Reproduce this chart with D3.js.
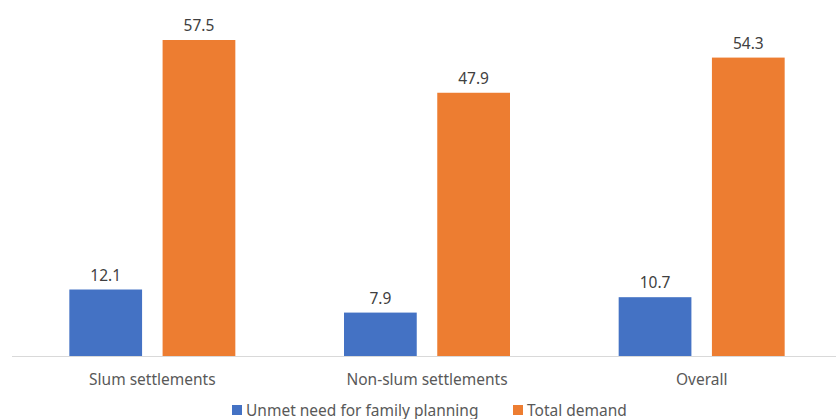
<!DOCTYPE html>
<html>
<head>
<meta charset="utf-8">
<script src="https://cdn.jsdelivr.net/npm/d3@7"></script>
<style>
  body { margin: 0; background: #fff; }
  text { font-family: "Noto Sans", sans-serif; }
</style>
</head>
<body>
<script>
var categories = ["Slum settlements", "Non-slum settlements", "Overall"];
var seriesNames = ["Unmet need for family planning", "Total demand"];
var unmetNeed = [12.1, 7.9, 10.7];
var totalDemand = [57.5, 47.9, 54.3];
var colours = ["#4472c4", "#ed7d31"];

const width = 836;
const height = 419;
const baseline = 356;

var data = categories.map((c, i) => ({
    cat: c,
    values: [
        {series: seriesNames[0], value: unmetNeed[i]},
        {series: seriesNames[1], value: totalDemand[i]}
    ]
}));

var svg = d3.select('body')
    .append('svg')
    .attr('width', width)
    .attr('height', height);

const x0 = d3.scaleBand()
    .domain(categories)
    .range([15, 839]);

const groupWidth = 166;
const x1 = d3.scaleBand()
    .domain(seriesNames)
    .range([0, groupWidth])
    .paddingInner(0.22);

const yScale = d3.scaleLinear()
    .domain([0, 57.5])
    .range([baseline, 40]);

// baseline
svg.append('line')
    .attr('x1', 12)
    .attr('x2', width)
    .attr('y1', baseline + 0.5)
    .attr('y2', baseline + 0.5)
    .attr('stroke', '#d9d9d9')
    .attr('stroke-width', 1);

let groups = svg.selectAll('.group')
    .data(data)
    .enter()
    .append('g')
        .attr('transform', d => `translate(${x0(d.cat) + (x0.bandwidth() - groupWidth) / 2}, 0)`);

groups.selectAll('rect')
    .data(d => d.values)
    .enter()
    .append('rect')
        .attr('x', d => x1(d.series))
        .attr('y', d => yScale(d.value))
        .attr('width', x1.bandwidth())
        .attr('height', d => baseline - yScale(d.value))
        .attr('fill', (d, i) => colours[i]);

// value labels
groups.selectAll('.val')
    .data(d => d.values)
    .enter()
    .append('text')
        .attr('x', d => x1(d.series) + x1.bandwidth() / 2)
        .attr('y', d => yScale(d.value) - 9)
        .attr('text-anchor', 'middle')
        .attr('font-size', '15.5px')
        .attr('fill', '#404040')
        .text(d => d.value.toFixed(1));

// category labels
svg.selectAll('.cat')
    .data(categories)
    .enter()
    .append('text')
        .attr('x', d => x0(d) + x0.bandwidth() / 2)
        .attr('y', 385)
        .attr('text-anchor', 'middle')
        .attr('font-size', '15.5px')
        .attr('fill', '#595959')
        .text(d => d);

// legend
var legendX = [232, 513];
var legend = svg.selectAll('.legend')
    .data(seriesNames)
    .enter()
    .append('g')
        .attr('transform', (d, i) => `translate(${legendX[i]}, 405)`);

legend.append('rect')
    .attr('width', 10)
    .attr('height', 10)
    .attr('fill', (d, i) => colours[i]);

legend.append('text')
    .attr('x', 14)
    .attr('y', 10.5)
    .attr('font-size', '15.5px')
    .attr('fill', '#595959')
    .text(d => d);
</script>
</body>
</html>
